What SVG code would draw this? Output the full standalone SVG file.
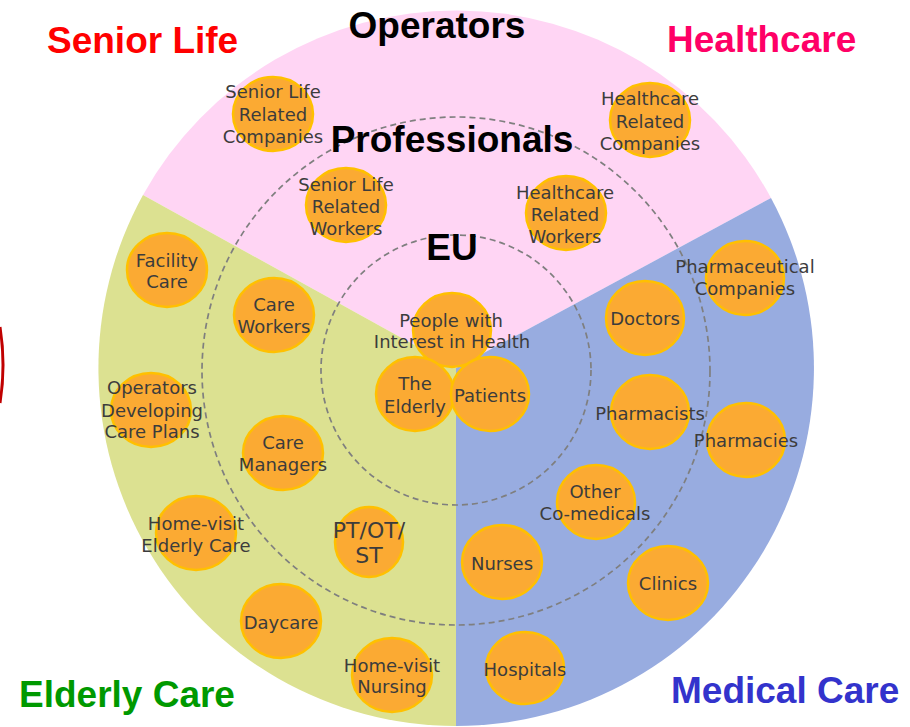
<svg xmlns="http://www.w3.org/2000/svg" width="910" height="727" viewBox="0 0 910 727">
  <style>
    .title { font-family: "Liberation Sans", Arial, sans-serif; font-weight: bold; font-size: 37px; }
    .ring { fill: none; stroke: #7F7F7F; stroke-width: 1.7; stroke-dasharray: 6 4; }
    .node ellipse { fill: #FBAA33; stroke: #FFC000; stroke-width: 2.5; }
    .node text { font-family: "DejaVu Sans", Verdana, sans-serif; font-size: 18px; fill: #3C3C3C; text-anchor: middle; }
    .node text.big { font-size: 22px; }
  </style>
  <rect width="910" height="727" fill="#FFFFFF"/>

  <!-- partial red outline at the left edge -->
  <path d="M0,327 A242,242 0 0 1 0,403" fill="none" stroke="#C00000" stroke-width="3"/>

  <!-- three sectors of the outer disc -->
  <g id="sectors">
    <path id="sector-senior-life" d="M456,368 L143,195 A358,358 0 0 1 771,198 Z" fill="#FFD5F4"/>
    <path id="sector-elderly-care" d="M456,368 L456,726 A358,358 0 0 1 143,195 Z" fill="#DCE191"/>
    <path id="sector-medical-care" d="M456,368 L771,198 A358,358 0 0 1 456,726 Z" fill="#98ACE0"/>
  </g>

  <!-- dashed rings: Professionals and EU -->
  <g id="rings">
    <circle class="ring" cx="456" cy="371" r="254"/>
    <circle class="ring" cx="456" cy="370" r="135"/>
  </g>

  <!-- Senior Life -->
  <g id="senior-life-companies" class="node">
    <ellipse cx="273" cy="114" rx="40" ry="37"/>
    <text x="273" y="98">Senior Life</text>
    <text x="273" y="121">Related</text>
    <text x="273" y="143">Companies</text>
  </g>
  <g id="senior-life-workers" class="node">
    <ellipse cx="346" cy="205" rx="40" ry="37"/>
    <text x="346" y="191">Senior Life</text>
    <text x="346" y="213">Related</text>
    <text x="346" y="235">Workers</text>
  </g>

  <!-- Healthcare -->
  <g id="healthcare-companies" class="node">
    <ellipse cx="650" cy="120" rx="40" ry="37"/>
    <text x="650" y="105">Healthcare</text>
    <text x="650" y="128">Related</text>
    <text x="650" y="150">Companies</text>
  </g>
  <g id="healthcare-workers" class="node">
    <ellipse cx="566" cy="213" rx="40" ry="37"/>
    <text x="565" y="199">Healthcare</text>
    <text x="565" y="221">Related</text>
    <text x="565" y="243">Workers</text>
  </g>

  <!-- EU -->
  <g id="people-interest-health" class="node">
    <ellipse cx="452" cy="330" rx="39" ry="37"/>
    <text x="451" y="327">People with</text>
    <text x="452" y="348">Interest in Health</text>
  </g>
  <g id="the-elderly" class="node">
    <ellipse cx="415" cy="394" rx="39" ry="37"/>
    <text x="415" y="390">The</text>
    <text x="415" y="413">Elderly</text>
  </g>
  <g id="patients" class="node">
    <ellipse cx="490" cy="394" rx="39" ry="37"/>
    <text x="490" y="402">Patients</text>
  </g>

  <!-- Medical Care -->
  <g id="doctors" class="node">
    <ellipse cx="645" cy="318" rx="39" ry="37"/>
    <text x="645" y="325">Doctors</text>
  </g>
  <g id="pharmaceutical-companies" class="node">
    <ellipse cx="745" cy="278" rx="39" ry="37"/>
    <text x="745" y="273">Pharmaceutical</text>
    <text x="745" y="295">Companies</text>
  </g>
  <g id="pharmacists" class="node">
    <ellipse cx="650" cy="412" rx="39" ry="37"/>
    <text x="650" y="420">Pharmacists</text>
  </g>
  <g id="pharmacies" class="node">
    <ellipse cx="746" cy="440" rx="39" ry="37"/>
    <text x="746" y="447">Pharmacies</text>
  </g>
  <g id="other-co-medicals" class="node">
    <ellipse cx="596" cy="502" rx="39" ry="37"/>
    <text x="595" y="498">Other</text>
    <text x="595" y="520">Co-medicals</text>
  </g>
  <g id="nurses" class="node">
    <ellipse cx="502" cy="562" rx="40" ry="37"/>
    <text x="502" y="570">Nurses</text>
  </g>
  <g id="clinics" class="node">
    <ellipse cx="668" cy="583" rx="40" ry="37"/>
    <text x="668" y="590">Clinics</text>
  </g>
  <g id="hospitals" class="node">
    <ellipse cx="525" cy="668" rx="39" ry="36"/>
    <text x="525" y="676">Hospitals</text>
  </g>

  <!-- Elderly Care -->
  <g id="facility-care" class="node">
    <ellipse cx="167" cy="270" rx="40" ry="37"/>
    <text x="167" y="267">Facility</text>
    <text x="167" y="288">Care</text>
  </g>
  <g id="care-workers" class="node">
    <ellipse cx="274" cy="315" rx="40" ry="37"/>
    <text x="274" y="311">Care</text>
    <text x="274" y="333">Workers</text>
  </g>
  <g id="operators-care-plans" class="node">
    <ellipse cx="151" cy="410" rx="40" ry="37"/>
    <text x="152" y="394">Operators</text>
    <text x="152" y="417">Developing</text>
    <text x="152" y="438">Care Plans</text>
  </g>
  <g id="care-managers" class="node">
    <ellipse cx="283" cy="453" rx="40" ry="37"/>
    <text x="283" y="449">Care</text>
    <text x="283" y="471">Managers</text>
  </g>
  <g id="home-visit-elderly-care" class="node">
    <ellipse cx="196" cy="533" rx="40" ry="37"/>
    <text x="196" y="530">Home-visit</text>
    <text x="196" y="552">Elderly Care</text>
  </g>
  <g id="pt-ot-st" class="node">
    <ellipse cx="369" cy="542" rx="34" ry="35"/>
    <text class="big" x="369" y="538">PT/OT/</text>
    <text class="big" x="369" y="563">ST</text>
  </g>
  <g id="daycare" class="node">
    <ellipse cx="281" cy="621" rx="40" ry="37"/>
    <text x="281" y="629">Daycare</text>
  </g>
  <g id="home-visit-nursing" class="node">
    <ellipse cx="392" cy="675" rx="40" ry="37"/>
    <text x="392" y="672">Home-visit</text>
    <text x="392" y="693">Nursing</text>
  </g>

  <!-- headings -->
  <g id="headings">
    <text class="title" x="47" y="53" fill="#FF0000">Senior Life</text>
    <text class="title" x="667" y="52" fill="#FF0066">Healthcare</text>
    <text class="title" x="19" y="707" fill="#009900">Elderly Care</text>
    <text class="title" x="671" y="703" fill="#3333CC">Medical Care</text>
    <text class="title" x="437" y="38" fill="#000000" text-anchor="middle">Operators</text>
    <text class="title" x="452" y="152" fill="#000000" text-anchor="middle">Professionals</text>
    <text class="title" x="452" y="260" fill="#000000" text-anchor="middle">EU</text>
  </g>
</svg>
